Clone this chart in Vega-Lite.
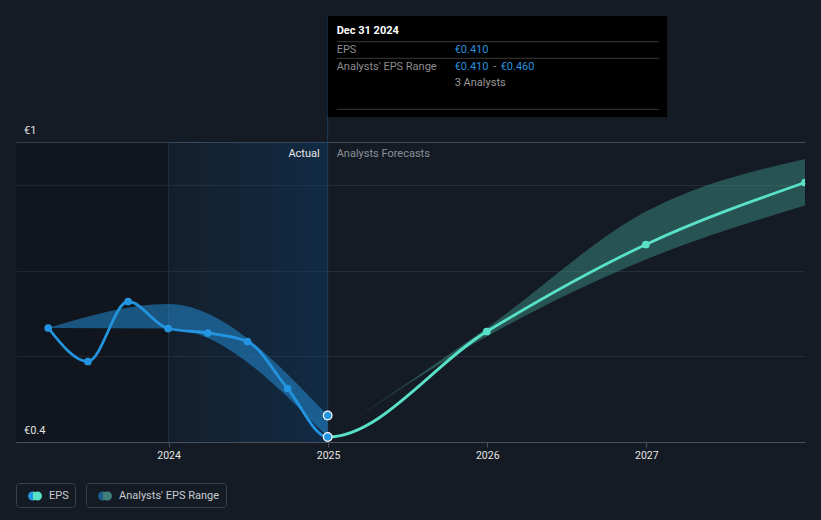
{
  "$schema": "https://vega.github.io/schema/vega-lite/v6.json",
  "width": 789,
  "height": 426,
  "autosize": "none",
  "padding": {"left": 16, "top": 16, "right": 16, "bottom": 78},
  "background": "#151b24",
  "config": {"view": {"stroke": null}, "font": "Roboto"},
  "resolve": {"scale": {"shape": "independent"}, "legend": {"shape": "independent"}},
  "datasets": {
    "eps": [
      {"date": "2023-03-31", "eps": 0.628, "phase": "actual"},
      {"date": "2023-06-30", "eps": 0.561, "phase": "actual"},
      {"date": "2023-09-30", "eps": 0.681, "phase": "actual"},
      {"date": "2023-12-31", "eps": 0.627, "phase": "actual"},
      {"date": "2024-03-31", "eps": 0.618, "phase": "actual"},
      {"date": "2024-06-30", "eps": 0.601, "phase": "actual"},
      {"date": "2024-09-30", "eps": 0.507, "phase": "actual"},
      {"date": "2024-12-31", "eps": 0.41, "phase": "actual"},
      {"date": "2025-12-31", "eps": 0.621, "phase": "forecast"},
      {"date": "2026-12-31", "eps": 0.795, "phase": "forecast"},
      {"date": "2027-12-31", "eps": 0.919, "phase": "forecast"}
    ],
    "actualRange": [
      {"date": "2023-03-31", "low": 0.628, "high": 0.628},
      {"date": "2023-12-31", "low": 0.627, "high": 0.676},
      {"date": "2024-12-31", "low": 0.41, "high": 0.453}
    ],
    "forecastRange": [
      {"date": "2024-12-31", "low": 0.41, "high": 0.41},
      {"date": "2025-12-31", "low": 0.611, "high": 0.628},
      {"date": "2026-12-31", "low": 0.765, "high": 0.861},
      {"date": "2027-12-31", "low": 0.873, "high": 0.966}
    ]
  },
  "layer": [
    {
      "data": {"values": [{}]},
      "mark": {"type": "rect", "color": "#000000", "opacity": 0.16},
      "encoding": {
        "x": {
          "datum": {"year": 2023, "month": 1, "date": 16, "utc": true},
          "type": "temporal",
          "title": null,
          "scale": {"type": "utc", "domain": [{"year": 2023, "month": 1, "date": 16, "utc": true}, {"year": 2027, "month": 12, "date": 31, "utc": true}]},
          "axis": {
            "values": [
              {"year": 2024, "month": 1, "date": 1, "utc": true},
              {"year": 2025, "month": 1, "date": 1, "utc": true},
              {"year": 2026, "month": 1, "date": 1, "utc": true},
              {"year": 2027, "month": 1, "date": 1, "utc": true}
            ],
            "format": "%Y",
            "title": null,
            "grid": false,
            "labelColor": "#e6e6e6",
            "labelFont": "Roboto",
            "labelFontSize": 10.5,
            "labelPadding": 3,
            "domainColor": "#4b505a",
            "tickColor": "#4b505a",
            "tickSize": 5
          }
        },
        "x2": {"datum": {"year": 2024, "month": 1, "date": 1, "utc": true}},
        "y": {
          "datum": 0.4,
          "type": "quantitative",
          "title": null,
          "scale": {"domain": [0.4, 1.252], "nice": false, "zero": false},
          "axis": {
            "values": [0.4, 0.5714, 0.7429, 0.9143, 1.0],
            "title": null,
            "grid": true,
            "gridColor": {"condition": {"test": "datum.value >= 0.99", "value": "#464b54"}, "value": "#262c36"},
            "domain": false,
            "ticks": false,
            "labels": false
          }
        },
        "y2": {"datum": 1.0}
      }
    },
    {
      "data": {"values": [{}]},
      "mark": {"type": "rect", "color": {"gradient": "linear", "x1": 0, "y1": 0, "x2": 1, "y2": 0, "stops": [{"offset": 0, "color": "rgba(12,64,112,0.1)"}, {"offset": 1, "color": "rgba(12,64,112,0.42)"}]}},
      "encoding": {
        "x": {"datum": {"year": 2024, "month": 1, "date": 1, "utc": true}, "type": "temporal", "title": null},
        "x2": {"datum": {"year": 2024, "month": 12, "date": 31, "utc": true}},
        "y": {"datum": 0.4, "type": "quantitative", "title": null},
        "y2": {"datum": 1.0}
      }
    },
    {
      "data": {"values": [{}]},
      "mark": {"type": "rule", "color": "#1b2e42", "strokeWidth": 1},
      "encoding": {
        "x": {"datum": {"year": 2024, "month": 1, "date": 1, "utc": true}, "type": "temporal", "title": null},
        "y": {"datum": 0.4, "type": "quantitative", "title": null},
        "y2": {"datum": 1.0}
      }
    },
    {
      "data": {"values": [{}]},
      "mark": {"type": "rule", "color": "#1f3d5c", "strokeWidth": 1},
      "encoding": {
        "x": {"datum": {"year": 2024, "month": 12, "date": 31, "utc": true}, "type": "temporal", "title": null}
      }
    },
    {
      "data": {"values": [{}]},
      "mark": {"type": "text", "text": "€1", "align": "left", "baseline": "alphabetic", "dx": 8, "dy": -8, "color": "#e0e0e0", "font": "Roboto", "fontSize": 11},
      "encoding": {
        "x": {"datum": {"year": 2023, "month": 1, "date": 16, "utc": true}, "type": "temporal", "title": null},
        "y": {"datum": 1.0, "type": "quantitative", "title": null}
      }
    },
    {
      "data": {"values": [{}]},
      "mark": {"type": "text", "text": "€0.4", "align": "left", "baseline": "alphabetic", "dx": 8, "dy": -8, "color": "#e0e0e0", "font": "Roboto", "fontSize": 11},
      "encoding": {
        "x": {"datum": {"year": 2023, "month": 1, "date": 16, "utc": true}, "type": "temporal", "title": null},
        "y": {"datum": 0.4, "type": "quantitative", "title": null}
      }
    },
    {
      "data": {"name": "actualRange"},
      "mark": {"type": "area", "interpolate": "monotone", "color": "#2394df", "opacity": 0.5},
      "encoding": {
        "x": {"field": "date", "type": "temporal", "title": null},
        "y": {"field": "low", "type": "quantitative", "title": null},
        "y2": {"field": "high"}
      }
    },
    {
      "data": {"name": "forecastRange"},
      "mark": {"type": "area", "interpolate": "monotone", "color": "#4fc9b4", "opacity": 0.32},
      "encoding": {
        "x": {"field": "date", "type": "temporal", "title": null},
        "y": {"field": "low", "type": "quantitative", "title": null},
        "y2": {"field": "high"}
      }
    },
    {
      "data": {"name": "eps"},
      "mark": {
        "type": "line",
        "interpolate": "monotone",
        "strokeWidth": 2.8,
        "stroke": {"gradient": "linear", "x1": 0, "y1": 0, "x2": 1, "y2": 0, "stops": [{"offset": 0, "color": "#2394df"}, {"offset": 0.3692, "color": "#2394df"}, {"offset": 0.3692, "color": "#58e1c8"}, {"offset": 1, "color": "#58e1c8"}]}
      },
      "encoding": {
        "x": {"field": "date", "type": "temporal", "title": null},
        "y": {"field": "eps", "type": "quantitative", "title": null}
      }
    },
    {
      "data": {"name": "eps"},
      "transform": [{"filter": {"field": "phase", "equal": "actual"}}],
      "mark": {"type": "point", "filled": true, "color": "#2394df", "size": 60, "opacity": 1},
      "encoding": {
        "x": {"field": "date", "type": "temporal", "title": null},
        "y": {"field": "eps", "type": "quantitative", "title": null}
      }
    },
    {
      "data": {"name": "eps"},
      "transform": [{"filter": {"field": "phase", "equal": "forecast"}}],
      "mark": {"type": "point", "filled": true, "color": "#58e1c8", "size": 60, "opacity": 1, "clip": true},
      "encoding": {
        "x": {"field": "date", "type": "temporal", "title": null},
        "y": {"field": "eps", "type": "quantitative", "title": null}
      }
    },
    {
      "data": {"name": "actualRange"},
      "transform": [{"filter": {"field": "date", "equal": {"year": 2024, "month": 12, "date": 31, "utc": true}}}],
      "mark": {"type": "point", "filled": true, "fill": "#2394df", "stroke": "#ffffff", "strokeWidth": 1.2, "size": 75, "opacity": 1},
      "encoding": {
        "x": {"field": "date", "type": "temporal", "title": null},
        "y": {"field": "high", "type": "quantitative", "title": null}
      }
    },
    {
      "data": {"name": "eps"},
      "transform": [{"filter": {"field": "date", "equal": {"year": 2024, "month": 12, "date": 31, "utc": true}}}],
      "mark": {"type": "point", "filled": true, "fill": "#2394df", "stroke": "#ffffff", "strokeWidth": 1.2, "size": 75, "opacity": 1},
      "encoding": {
        "x": {"field": "date", "type": "temporal", "title": null},
        "y": {"field": "eps", "type": "quantitative", "title": null}
      }
    },
    {
      "data": {"name": "eps"},
      "transform": [{"filter": "false"}],
      "mark": {"type": "point", "filled": true, "opacity": 1, "fill": {"gradient": "linear", "x1": 0, "y1": 0, "x2": 1, "y2": 0, "stops": [{"offset": 0, "color": "#2394df"}, {"offset": 0.357, "color": "#2394df"}, {"offset": 0.357, "color": "#58e1c8"}, {"offset": 1, "color": "#58e1c8"}]}},
      "encoding": {
        "x": {"field": "date", "type": "temporal", "title": null},
        "y": {"field": "eps", "type": "quantitative", "title": null},
        "shape": {
          "datum": "EPS",
          "type": "nominal",
          "scale": {"range": ["M-0.357,-0.643A0.643,0.643,0,1,1,-0.357,0.643A0.643,0.643,0,1,1,-0.357,-0.643Z M0.357,-0.643A0.643,0.643,0,1,1,0.357,0.643A0.643,0.643,0,1,1,0.357,-0.643Z"]},
          "legend": {
            "orient": "none",
            "legendX": 0,
            "legendY": 467,
            "title": null,
            "strokeColor": "#3b4049",
            "cornerRadius": 3,
            "padding": 6,
            "symbolSize": 196,
            "symbolOffset": 6,
            "symbolStrokeWidth": 0,
            "labelOffset": 7,
            "labelFont": "Roboto",
            "labelFontSize": 11,
            "labelColor": "#c8ccd2",
            "labelExpr": "datum.label + '  '"
          }
        }
      }
    },
    {
      "data": {"name": "eps"},
      "transform": [{"filter": "false"}],
      "mark": {"type": "point", "filled": true, "opacity": 1, "fill": {"gradient": "linear", "x1": 0, "y1": 0, "x2": 1, "y2": 0, "stops": [{"offset": 0, "color": "#1f5b8a"}, {"offset": 0.357, "color": "#1f5b8a"}, {"offset": 0.357, "color": "#3d7f79"}, {"offset": 1, "color": "#3d7f79"}]}},
      "encoding": {
        "x": {"field": "date", "type": "temporal", "title": null},
        "y": {"field": "eps", "type": "quantitative", "title": null},
        "shape": {
          "datum": "Analysts' EPS Range",
          "type": "nominal",
          "scale": {"range": ["M-0.357,-0.643A0.643,0.643,0,1,1,-0.357,0.643A0.643,0.643,0,1,1,-0.357,-0.643Z M0.357,-0.643A0.643,0.643,0,1,1,0.357,0.643A0.643,0.643,0,1,1,0.357,-0.643Z"]},
          "legend": {
            "orient": "none",
            "legendX": 70,
            "legendY": 467,
            "title": null,
            "strokeColor": "#3b4049",
            "cornerRadius": 3,
            "padding": 6,
            "symbolSize": 196,
            "symbolOffset": 6,
            "symbolStrokeWidth": 0,
            "labelOffset": 7,
            "labelFont": "Roboto",
            "labelFontSize": 11,
            "labelColor": "#c8ccd2",
            "labelExpr": "datum.label + '  '"
          }
        }
      }
    },
    {
      "data": {"values": [{}]},
      "mark": {"type": "text", "text": "Actual", "align": "right", "baseline": "middle", "dx": -8, "color": "#e8e8e8", "font": "Roboto", "fontSize": 11},
      "encoding": {
        "x": {"datum": {"year": 2024, "month": 12, "date": 31, "utc": true}, "type": "temporal", "title": null},
        "y": {"datum": 0.976, "type": "quantitative", "title": null}
      }
    },
    {
      "data": {"values": [{}]},
      "mark": {"type": "text", "text": "Analysts Forecasts", "align": "left", "baseline": "middle", "dx": 9, "color": "#8a8f98", "font": "Roboto", "fontSize": 11},
      "encoding": {
        "x": {"datum": {"year": 2024, "month": 12, "date": 31, "utc": true}, "type": "temporal", "title": null},
        "y": {"datum": 0.976, "type": "quantitative", "title": null}
      }
    },
    {
      "data": {"values": [{}]},
      "mark": {"type": "rect", "color": "#000000"},
      "encoding": {
        "x": {"datum": {"year": 2024, "month": 12, "date": 31, "utc": true}, "type": "temporal", "title": null},
        "x2": {"datum": {"year": 2027, "month": 2, "date": 18, "utc": true}},
        "y": {"datum": 1.252, "type": "quantitative", "title": null},
        "y2": {"datum": 1.05}
      }
    },
    {
      "data": {"values": [{}]},
      "mark": {"type": "rule", "color": "#3a3a3a", "strokeWidth": 1, "xOffset": 9, "x2Offset": -8},
      "encoding": {
        "x": {"datum": {"year": 2024, "month": 12, "date": 31, "utc": true}, "type": "temporal", "title": null},
        "x2": {"datum": {"year": 2027, "month": 2, "date": 18, "utc": true}},
        "y": {"datum": 1.2006, "type": "quantitative", "title": null}
      }
    },
    {
      "data": {"values": [{}]},
      "mark": {"type": "rule", "color": "#3a3a3a", "strokeWidth": 1, "xOffset": 9, "x2Offset": -8},
      "encoding": {
        "x": {"datum": {"year": 2024, "month": 12, "date": 31, "utc": true}, "type": "temporal", "title": null},
        "x2": {"datum": {"year": 2027, "month": 2, "date": 18, "utc": true}},
        "y": {"datum": 1.1674, "type": "quantitative", "title": null}
      }
    },
    {
      "data": {"values": [{}]},
      "mark": {"type": "rule", "color": "#3a3a3a", "strokeWidth": 1, "xOffset": 9, "x2Offset": -8},
      "encoding": {
        "x": {"datum": {"year": 2024, "month": 12, "date": 31, "utc": true}, "type": "temporal", "title": null},
        "x2": {"datum": {"year": 2027, "month": 2, "date": 18, "utc": true}},
        "y": {"datum": 1.0654, "type": "quantitative", "title": null}
      }
    },
    {
      "data": {"values": [{}]},
      "mark": {"type": "text", "text": "Dec 31 2024", "align": "left", "baseline": "middle", "dx": 9, "color": "#ffffff", "font": "Roboto", "fontSize": 11, "fontWeight": "bold"},
      "encoding": {
        "x": {"datum": {"year": 2024, "month": 12, "date": 31, "utc": true}, "type": "temporal", "title": null},
        "y": {"datum": 1.222, "type": "quantitative", "title": null}
      }
    },
    {
      "data": {"values": [{}]},
      "mark": {"type": "text", "text": "EPS", "align": "left", "baseline": "middle", "dx": 9, "color": "#8c8c8c", "font": "Roboto", "fontSize": 11},
      "encoding": {
        "x": {"datum": {"year": 2024, "month": 12, "date": 31, "utc": true}, "type": "temporal", "title": null},
        "y": {"datum": 1.185, "type": "quantitative", "title": null}
      }
    },
    {
      "data": {"values": [{}]},
      "mark": {"type": "text", "text": "€0.410", "align": "left", "baseline": "middle", "dx": 127, "color": "#2a8fdc", "font": "Roboto", "fontSize": 11},
      "encoding": {
        "x": {"datum": {"year": 2024, "month": 12, "date": 31, "utc": true}, "type": "temporal", "title": null},
        "y": {"datum": 1.185, "type": "quantitative", "title": null}
      }
    },
    {
      "data": {"values": [{}]},
      "mark": {"type": "text", "text": "Analysts' EPS Range", "align": "left", "baseline": "middle", "dx": 9, "color": "#8c8c8c", "font": "Roboto", "fontSize": 11},
      "encoding": {
        "x": {"datum": {"year": 2024, "month": 12, "date": 31, "utc": true}, "type": "temporal", "title": null},
        "y": {"datum": 1.151, "type": "quantitative", "title": null}
      }
    },
    {
      "data": {"values": [{}]},
      "mark": {"type": "text", "text": "€0.410", "align": "left", "baseline": "middle", "dx": 127, "color": "#2a8fdc", "font": "Roboto", "fontSize": 11},
      "encoding": {
        "x": {"datum": {"year": 2024, "month": 12, "date": 31, "utc": true}, "type": "temporal", "title": null},
        "y": {"datum": 1.151, "type": "quantitative", "title": null}
      }
    },
    {
      "data": {"values": [{}]},
      "mark": {"type": "text", "text": "-", "align": "center", "baseline": "middle", "dx": 167, "color": "#9a9a9a", "font": "Roboto", "fontSize": 11},
      "encoding": {
        "x": {"datum": {"year": 2024, "month": 12, "date": 31, "utc": true}, "type": "temporal", "title": null},
        "y": {"datum": 1.151, "type": "quantitative", "title": null}
      }
    },
    {
      "data": {"values": [{}]},
      "mark": {"type": "text", "text": "€0.460", "align": "left", "baseline": "middle", "dx": 173, "color": "#2a8fdc", "font": "Roboto", "fontSize": 11},
      "encoding": {
        "x": {"datum": {"year": 2024, "month": 12, "date": 31, "utc": true}, "type": "temporal", "title": null},
        "y": {"datum": 1.151, "type": "quantitative", "title": null}
      }
    },
    {
      "data": {"values": [{}]},
      "mark": {"type": "text", "text": "3 Analysts", "align": "left", "baseline": "middle", "dx": 127, "color": "#9a9a9a", "font": "Roboto", "fontSize": 11},
      "encoding": {
        "x": {"datum": {"year": 2024, "month": 12, "date": 31, "utc": true}, "type": "temporal", "title": null},
        "y": {"datum": 1.118, "type": "quantitative", "title": null}
      }
    }
  ]
}
